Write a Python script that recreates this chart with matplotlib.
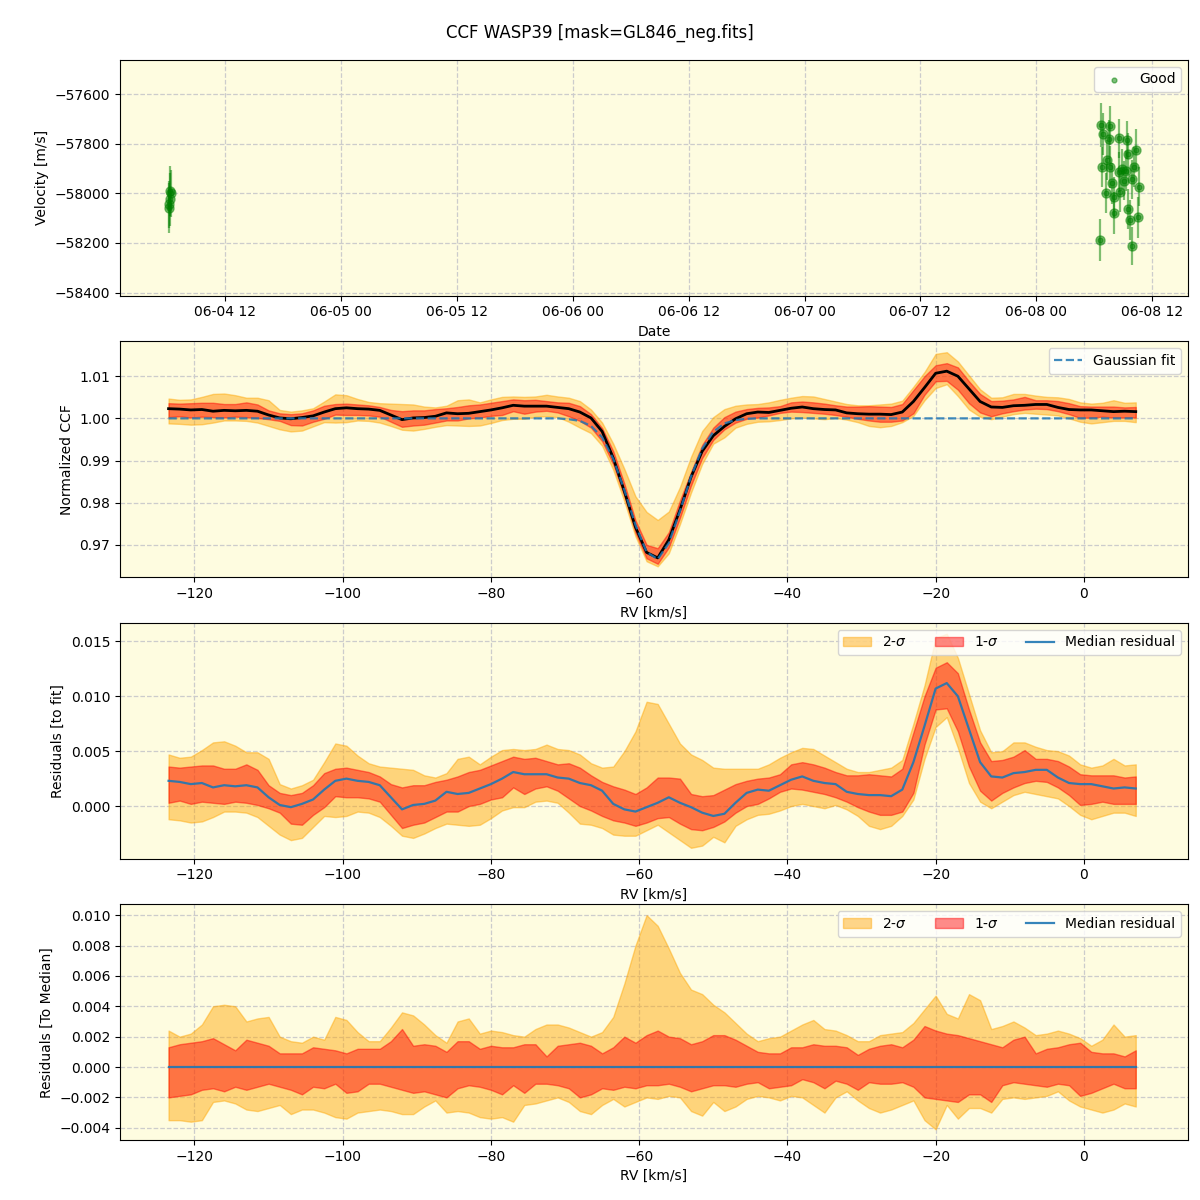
import numpy as np
import pandas as pd
import matplotlib
matplotlib.use("Agg")
import matplotlib.pyplot as plt
import matplotlib.dates as mdates

# --- top panel: RV time series (Good points) ---
obs_time = pd.to_datetime([
    "2022-06-04 06:12", "2022-06-04 06:20", "2022-06-04 06:17", "2022-06-04 06:09", "2022-06-04 06:06",
    "2022-06-08 06:41", "2022-06-08 07:35", "2022-06-08 06:54", "2022-06-08 07:29", "2022-06-08 08:35",
    "2022-06-08 09:23", "2022-06-08 09:29", "2022-06-08 10:20", "2022-06-08 07:19", "2022-06-08 06:48",
    "2022-06-08 07:40", "2022-06-08 08:31", "2022-06-08 08:52", "2022-06-08 09:17", "2022-06-08 10:08",
    "2022-06-08 07:50", "2022-06-08 09:02", "2022-06-08 09:54", "2022-06-08 10:41", "2022-06-08 07:14",
    "2022-06-08 08:00", "2022-06-08 08:41", "2022-06-08 08:02", "2022-06-08 09:27", "2022-06-08 09:40",
    "2022-06-08 10:29", "2022-06-08 06:37", "2022-06-08 09:56",
])
velocity = [
    -57990, -58000, -58025, -58045, -58060,
    -57725, -57727, -57761, -57783, -57779,
    -57785, -57842, -57826, -57866, -57895,
    -57895, -57913, -57903, -57909, -57895,
    -57960, -57949, -57944, -57973, -58000,
    -58016, -57993, -58080, -58063, -58107,
    -58097, -58188, -58212,
]
velocity_err = [
    100, 95, 105, 95, 100,
    87, 80, 85, 80, 80,
    78, 85, 85, 80, 80,
    85, 80, 82, 80, 80,
    82, 80, 80, 78, 80,
    80, 82, 85, 80, 80,
    82, 85, 78,
]

# --- CCF grid (km/s) ---
rv = np.arange(-123.5, 7.1, 1.5)

gauss_fit = [1.0] * 36 + [
    0.9998, 0.9994, 0.9982, 0.9955, 0.9904, 0.9830, 0.9747, 0.9683,
    0.9666, 0.9704, 0.9780, 0.9862, 0.9928, 0.9968, 0.9988, 0.9996, 0.9999,
] + [1.0] * 35

# residuals to fit: median and 1/2-sigma envelopes
res_med = [
    0.0023, 0.0022, 0.0020, 0.0021, 0.0017, 0.0019, 0.0018, 0.0019, 0.0017, 0.0008, 0.0001,
    -0.0001, 0.0002, 0.0006, 0.0015, 0.0023, 0.0025, 0.0023, 0.0022, 0.0019, 0.0008, -0.0003,
    0.0001, 0.0002, 0.0005, 0.0013, 0.0011, 0.0012, 0.0016, 0.0020, 0.0025, 0.0031, 0.0029,
    0.0029, 0.0029, 0.0026, 0.0025, 0.0021, 0.0019, 0.0014, 0.0002, -0.0003, -0.0005, -0.0001,
    0.0003, 0.0008, 0.0003, -0.0001, -0.0006, -0.0009, -0.0007, 0.0003, 0.0012, 0.0015, 0.0014,
    0.0019, 0.0024, 0.0027, 0.0023, 0.0021, 0.0020, 0.0013, 0.0011, 0.0010, 0.0010, 0.0009,
    0.0015, 0.0040, 0.0073, 0.0107, 0.0112, 0.0100, 0.0070, 0.0040, 0.0027, 0.0026, 0.0030,
    0.0031, 0.0033, 0.0033, 0.0026, 0.0021, 0.0020, 0.0020, 0.0018, 0.0016, 0.0017, 0.0016,
]
res_1s_hi = [
    0.0036, 0.0035, 0.0036, 0.0037, 0.0037, 0.0034, 0.0034, 0.0038, 0.0033, 0.0019, 0.0012,
    0.0010, 0.0012, 0.0019, 0.0030, 0.0034, 0.0035, 0.0033, 0.0031, 0.0027, 0.0020, 0.0017,
    0.0019, 0.0019, 0.0022, 0.0024, 0.0027, 0.0031, 0.0033, 0.0037, 0.0041, 0.0045, 0.0043,
    0.0044, 0.0041, 0.0038, 0.0039, 0.0035, 0.0028, 0.0022, 0.0018, 0.0015, 0.0011, 0.0017,
    0.0026, 0.0026, 0.0025, 0.0011, 0.0009, 0.0010, 0.0015, 0.0020, 0.0023, 0.0025, 0.0026,
    0.0029, 0.0038, 0.0040, 0.0038, 0.0035, 0.0031, 0.0028, 0.0028, 0.0029, 0.0028, 0.0027,
    0.0034, 0.0067, 0.0100, 0.0126, 0.0131, 0.0121, 0.0088, 0.0058, 0.0041, 0.0042, 0.0045,
    0.0051, 0.0043, 0.0043, 0.0041, 0.0036, 0.0029, 0.0028, 0.0028, 0.0028, 0.0026, 0.0027,
]
res_1s_lo = [
    0.0003, 0.0005, 0.0002, 0.0004, 0.0003, 0.0002, 0.0004, 0.0003, 0.0001, -0.0002, -0.0006,
    -0.0016, -0.0017, -0.0008, -0.0001, 0.0009, 0.0008, 0.0008, 0.0007, 0.0004, -0.0008, -0.0020,
    -0.0017, -0.0015, -0.0010, -0.0005, -0.0005, 0.0000, 0.0002, 0.0006, 0.0008, 0.0017, 0.0011,
    0.0016, 0.0018, 0.0014, 0.0007, 0.0000, -0.0004, -0.0009, -0.0013, -0.0015, -0.0018, -0.0015,
    -0.0011, -0.0010, -0.0016, -0.0021, -0.0022, -0.0019, -0.0014, -0.0006, 0.0000, 0.0002, 0.0007,
    0.0013, 0.0016, 0.0015, 0.0013, 0.0011, 0.0008, 0.0004, -0.0001, -0.0005, -0.0008, -0.0008,
    -0.0005, 0.0012, 0.0056, 0.0088, 0.0089, 0.0068, 0.0036, 0.0014, 0.0005, 0.0012, 0.0017,
    0.0021, 0.0023, 0.0022, 0.0017, 0.0010, 0.0001, 0.0002, 0.0004, 0.0002, 0.0002, 0.0002,
]
res_2s_hi = [
    0.0047, 0.0044, 0.0045, 0.0051, 0.0058, 0.0059, 0.0055, 0.0049, 0.0049, 0.0043, 0.0020,
    0.0016, 0.0019, 0.0024, 0.0040, 0.0057, 0.0055, 0.0046, 0.0039, 0.0036, 0.0035, 0.0034,
    0.0033, 0.0028, 0.0026, 0.0030, 0.0043, 0.0045, 0.0038, 0.0045, 0.0051, 0.0052, 0.0051,
    0.0052, 0.0056, 0.0052, 0.0051, 0.0047, 0.0039, 0.0035, 0.0036, 0.0050, 0.0068, 0.0095,
    0.0093, 0.0075, 0.0057, 0.0047, 0.0042, 0.0035, 0.0034, 0.0034, 0.0034, 0.0034, 0.0038,
    0.0044, 0.0049, 0.0053, 0.0052, 0.0046, 0.0040, 0.0034, 0.0031, 0.0031, 0.0033, 0.0035,
    0.0042, 0.0075, 0.0110, 0.0153, 0.0157, 0.0135, 0.0102, 0.0069, 0.0049, 0.0050, 0.0058,
    0.0058, 0.0054, 0.0051, 0.0050, 0.0046, 0.0038, 0.0035, 0.0037, 0.0043, 0.0037, 0.0038,
]
res_2s_lo = [
    -0.0012, -0.0013, -0.0015, -0.0014, -0.0010, -0.0005, -0.0005, -0.0006, -0.0010, -0.0018, -0.0026,
    -0.0031, -0.0029, -0.0019, -0.0009, -0.0010, -0.0009, -0.0005, -0.0006, -0.0010, -0.0018, -0.0027,
    -0.0029, -0.0025, -0.0020, -0.0016, -0.0017, -0.0018, -0.0017, -0.0011, -0.0004, -0.0001, -0.0001,
    0.0004, 0.0005, 0.0003, -0.0006, -0.0016, -0.0017, -0.0020, -0.0026, -0.0027, -0.0027, -0.0022,
    -0.0017, -0.0024, -0.0031, -0.0038, -0.0036, -0.0028, -0.0033, -0.0018, -0.0012, -0.0008, -0.0007,
    -0.0004, 0.0000, 0.0002, 0.0000, -0.0002, 0.0001, -0.0003, -0.0009, -0.0018, -0.0021, -0.0018,
    -0.0009, 0.0006, 0.0043, 0.0072, 0.0081, 0.0053, 0.0021, 0.0004, -0.0002, 0.0004, 0.0010,
    0.0013, 0.0011, 0.0009, 0.0007, 0.0000, -0.0008, -0.0012, -0.0009, -0.0006, -0.0006, -0.0009,
]

# residuals to median: 1/2-sigma envelopes
med_1s_hi = [
    0.0013, 0.0015, 0.0016, 0.0017, 0.0019, 0.0015, 0.0011, 0.0018, 0.0016, 0.0014, 0.0009,
    0.0009, 0.0009, 0.0013, 0.0012, 0.0011, 0.0009, 0.0012, 0.0012, 0.0012, 0.0017, 0.0025,
    0.0014, 0.0015, 0.0014, 0.0010, 0.0017, 0.0017, 0.0012, 0.0014, 0.0013, 0.0013, 0.0015,
    0.0015, 0.0007, 0.0014, 0.0015, 0.0016, 0.0014, 0.0009, 0.0013, 0.0020, 0.0016, 0.0021,
    0.0024, 0.0020, 0.0019, 0.0015, 0.0017, 0.0021, 0.0021, 0.0018, 0.0014, 0.0010, 0.0009,
    0.0009, 0.0013, 0.0013, 0.0015, 0.0014, 0.0014, 0.0013, 0.0008, 0.0012, 0.0014, 0.0015,
    0.0013, 0.0018, 0.0027, 0.0024, 0.0022, 0.0021, 0.0019, 0.0017, 0.0015, 0.0013, 0.0018,
    0.0020, 0.0009, 0.0012, 0.0013, 0.0015, 0.0016, 0.0010, 0.0009, 0.0009, 0.0007, 0.0011,
]
med_1s_lo = [
    -0.0020, -0.0019, -0.0018, -0.0015, -0.0014, -0.0016, -0.0013, -0.0015, -0.0013, -0.0011, -0.0013,
    -0.0015, -0.0018, -0.0013, -0.0014, -0.0011, -0.0017, -0.0016, -0.0011, -0.0011, -0.0013, -0.0015,
    -0.0017, -0.0016, -0.0018, -0.0020, -0.0014, -0.0012, -0.0013, -0.0015, -0.0018, -0.0012, -0.0017,
    -0.0011, -0.0011, -0.0012, -0.0014, -0.0020, -0.0018, -0.0014, -0.0015, -0.0013, -0.0014, -0.0012,
    -0.0012, -0.0011, -0.0013, -0.0016, -0.0014, -0.0012, -0.0012, -0.0013, -0.0011, -0.0010, -0.0014,
    -0.0013, -0.0012, -0.0008, -0.0010, -0.0014, -0.0009, -0.0011, -0.0015, -0.0010, -0.0011, -0.0011,
    -0.0010, -0.0013, -0.0020, -0.0021, -0.0022, -0.0023, -0.0018, -0.0018, -0.0023, -0.0012, -0.0010,
    -0.0011, -0.0012, -0.0013, -0.0011, -0.0012, -0.0019, -0.0017, -0.0014, -0.0011, -0.0014, -0.0014,
]
med_2s_hi = [
    0.0024, 0.0020, 0.0022, 0.0028, 0.0040, 0.0041, 0.0040, 0.0030, 0.0032, 0.0033, 0.0020,
    0.0017, 0.0016, 0.0020, 0.0018, 0.0033, 0.0031, 0.0023, 0.0017, 0.0017, 0.0026, 0.0036,
    0.0034, 0.0028, 0.0021, 0.0016, 0.0030, 0.0032, 0.0022, 0.0024, 0.0023, 0.0021, 0.0020,
    0.0025, 0.0028, 0.0028, 0.0026, 0.0023, 0.0020, 0.0023, 0.0033, 0.0055, 0.0080, 0.0100,
    0.0093, 0.0078, 0.0062, 0.0051, 0.0048, 0.0041, 0.0036, 0.0029, 0.0022, 0.0017, 0.0019,
    0.0020, 0.0024, 0.0028, 0.0031, 0.0025, 0.0024, 0.0021, 0.0017, 0.0017, 0.0021, 0.0022,
    0.0023, 0.0029, 0.0038, 0.0047, 0.0035, 0.0032, 0.0048, 0.0044, 0.0025, 0.0027, 0.0030,
    0.0026, 0.0021, 0.0022, 0.0024, 0.0022, 0.0019, 0.0014, 0.0018, 0.0028, 0.0020, 0.0021,
]
med_2s_lo = [
    -0.0035, -0.0035, -0.0036, -0.0035, -0.0023, -0.0022, -0.0024, -0.0028, -0.0029, -0.0027, -0.0025,
    -0.0031, -0.0028, -0.0028, -0.0030, -0.0033, -0.0034, -0.0030, -0.0029, -0.0028, -0.0029, -0.0031,
    -0.0031, -0.0026, -0.0022, -0.0030, -0.0029, -0.0030, -0.0033, -0.0034, -0.0033, -0.0036, -0.0025,
    -0.0024, -0.0022, -0.0020, -0.0023, -0.0029, -0.0031, -0.0025, -0.0021, -0.0026, -0.0023, -0.0020,
    -0.0021, -0.0019, -0.0020, -0.0029, -0.0032, -0.0023, -0.0029, -0.0026, -0.0021, -0.0019, -0.0020,
    -0.0022, -0.0019, -0.0020, -0.0025, -0.0030, -0.0020, -0.0016, -0.0022, -0.0027, -0.0030, -0.0028,
    -0.0025, -0.0022, -0.0035, -0.0041, -0.0025, -0.0034, -0.0027, -0.0027, -0.0030, -0.0021, -0.0020,
    -0.0021, -0.0020, -0.0019, -0.0016, -0.0022, -0.0026, -0.0028, -0.0030, -0.0028, -0.0024, -0.0026,
]

fit = np.array(gauss_fit)
rmed = np.array(res_med)
bg = "#fefce0"

fig, axes = plt.subplots(4, 1, figsize=(12, 12), dpi=100)
fig.subplots_adjust(left=0.1, right=0.99, top=0.95, bottom=0.05, hspace=0.195)
fig.suptitle("CCF WASP39 [mask=GL846_neg.fits]", fontsize=12)

for ax in axes:
    ax.set_facecolor(bg)
    ax.grid(True, ls="--", color="0.8", lw=0.9)
    ax.set_axisbelow(True)

# panel 1
ax1 = axes[0]
ax1.errorbar(obs_time, velocity, yerr=velocity_err, fmt="o", color="green",
             alpha=0.5, ms=6.5, elinewidth=1.6)
ax1.scatter(obs_time, velocity, s=12, color="green", alpha=0.5, label="Good")
ax1.set_ylim(-58412, -57463)
ax1.xaxis.set_major_locator(mdates.HourLocator(byhour=[0, 12]))
ax1.xaxis.set_major_formatter(mdates.DateFormatter("%m-%d %H"))
ax1.set_xlabel("Date")
ax1.set_ylabel("Velocity [m/s]")
ax1.legend(loc="upper right")

# panel 2
ax2 = axes[1]
ax2.fill_between(rv, fit + np.array(res_2s_lo), fit + np.array(res_2s_hi), color="orange", alpha=0.45)
ax2.fill_between(rv, fit + np.array(res_1s_lo), fit + np.array(res_1s_hi), color="red", alpha=0.45)
ax2.plot(rv, fit + rmed, color="black", lw=2)
ax2.plot(rv, fit, "--", color="C0", lw=1.6, alpha=0.85, label="Gaussian fit")
ax2.set_xlabel("RV [km/s]")
ax2.set_ylabel("Normalized CCF")
ax2.legend(loc="upper right")

# panel 3
ax3 = axes[2]
ax3.fill_between(rv, res_2s_lo, res_2s_hi, color="orange", alpha=0.45, label="2-$\\sigma$")
ax3.fill_between(rv, res_1s_lo, res_1s_hi, color="red", alpha=0.45, label="1-$\\sigma$")
ax3.plot(rv, rmed, color="C0", lw=1.6, alpha=0.9, label="Median residual")
ax3.set_xlabel("RV [km/s]")
ax3.set_ylabel("Residuals [to fit]")
ax3.legend(loc="upper right", ncol=3)

# panel 4
ax4 = axes[3]
ax4.fill_between(rv, med_2s_lo, med_2s_hi, color="orange", alpha=0.45, label="2-$\\sigma$")
ax4.fill_between(rv, med_1s_lo, med_1s_hi, color="red", alpha=0.45, label="1-$\\sigma$")
ax4.plot(rv, np.zeros(len(rv)), color="C0", lw=1.6, alpha=0.9, label="Median residual")
ax4.set_xlabel("RV [km/s]")
ax4.set_ylabel("Residuals [To Median]")
ax4.legend(loc="upper right", ncol=3)

for ax in axes[1:]:
    ax.set_xlim(-130.05, 14.05)

fig.savefig("out.png", dpi=100)
